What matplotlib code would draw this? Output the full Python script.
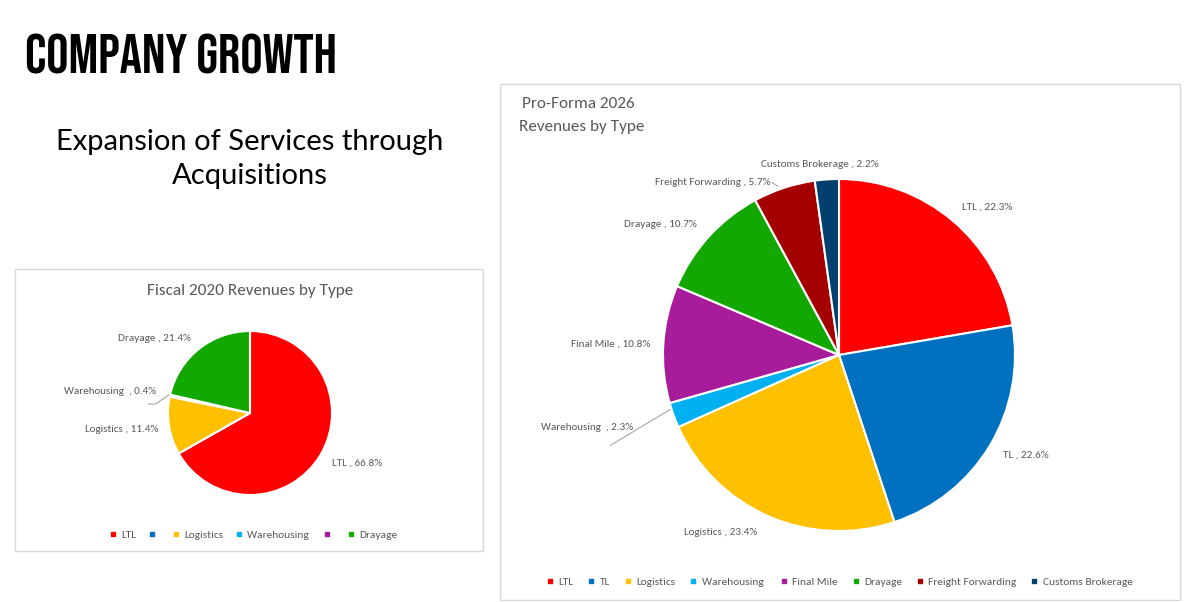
import matplotlib.pyplot as plt
import matplotlib.patches as mpatches
from matplotlib.lines import Line2D

# categories shared by both charts ("Warehousing " keeps the trailing space of the source sheet)
categories = ["LTL", "TL", "Logistics", "Warehousing ", "Final Mile",
              "Drayage", "Freight Forwarding", "Customs Brokerage"]
colors = ["#FF0000", "#0070C0", "#FFC000", "#00B0F0", "#A81B9A",
          "#12A800", "#A50000", "#003F6E"]

# Fiscal 2020 revenue shares (%), TL and Final Mile are zero
fy2020_cats = categories[:6]
fy2020_vals = [66.8, 0.0, 11.4, 0.4, 0.0, 21.4]

# Pro-Forma 2026 revenue shares (%)
pf2026_vals = [22.3, 22.6, 23.4, 2.3, 10.8, 10.7, 5.7, 2.2]

W, H = 1200, 602
LABEL_FONT = ["Carlito", "DejaVu Sans"]
GREY = "#595959"


def fig_box(x0, y0, x1, y1):
  # pixel box (top-left origin) -> figure fraction rect
  return [x0 / W, 1 - y1 / H, (x1 - x0) / W, (y1 - y0) / H]


def draw_pie(ax, vals, cols, lim):
  wedges, _ = ax.pie(vals, colors=cols, startangle=90, counterclock=False,
                     wedgeprops=dict(edgecolor="white", linewidth=1.5))
  ax.set_xlim(-lim, lim)
  ax.set_ylim(-lim, lim)
  ax.set_aspect("equal")
  ax.axis("off")
  return wedges


def pie_label(ax, text, xy, ha):
  ax.text(xy[0], xy[1], text, ha=ha, va="center", fontsize=8,
          color=GREY, family=LABEL_FONT)


fig = plt.figure(figsize=(12, 6.02), dpi=100)

# page headings
fig.text(25 / W, 1 - 73 / H, "COMPANY GROWTH", fontsize=40,
         family=["Bebas Neue", "DejaVu Sans"], va="baseline")
fig.text(250 / W, 1 - 159 / H, "Expansion of Services through\nAcquisitions",
         fontsize=21, family=["Lato", "DejaVu Sans"], ha="center", va="center",
         linespacing=1.38)

# chart frames
for box in [(15, 269, 483, 551), (500, 84, 1180, 600)]:
  fig.patches.append(mpatches.Rectangle((box[0] / W, 1 - box[3] / H),
                                        (box[2] - box[0]) / W, (box[3] - box[1]) / H,
                                        transform=fig.transFigure, fill=False,
                                        edgecolor="#D9D9D9", linewidth=1))

# ---- Fiscal 2020 pie ----
r1, lim1 = 82, 1.6
ax1 = fig.add_axes(fig_box(250 - r1 * lim1, 413 - r1 * lim1, 250 + r1 * lim1, 413 + r1 * lim1))
w1 = draw_pie(ax1, fy2020_vals, colors[:6], lim1)
fig.text(250 / W, 1 - 291 / H, "Fiscal 2020 Revenues by Type", ha="center", va="center",
         fontsize=12.3, color=GREY, family=LABEL_FONT)

# label anchors in pie-radius units
fy2020_label_pos = {"LTL": ((1.0, -0.61), "left"),
                    "Logistics": ((-1.12, -0.2), "right"),
                    "Warehousing ": ((-1.15, 0.26), "right"),
                    "Drayage": ((-0.72, 0.91), "right")}
for name, v in zip(fy2020_cats, fy2020_vals):
  if name in fy2020_label_pos:
    xy, ha = fy2020_label_pos[name]
    pie_label(ax1, f"{name} , {v:.1f}%", xy, ha)
ax1.plot([-0.99, -1.15, -1.24], [0.22, 0.11, 0.11], color="#A6A6A6", lw=0.8)

handles1 = [Line2D([], [], marker="s", ls="", markersize=3.5, color=c) for c in colors[:6]]
labels1 = [n if v > 0 else "" for n, v in zip(fy2020_cats, fy2020_vals)]
fig.legend(handles1, labels1, loc="center", bbox_to_anchor=(254 / W, 1 - 535 / H),
           ncol=6, frameon=False, handlelength=0.5, handletextpad=0.5, columnspacing=1.1,
           prop=dict(family=LABEL_FONT, size=8.2), labelcolor=GREY)

# ---- Pro-Forma 2026 pie ----
r2, lim2 = 176, 1.3
ax2 = fig.add_axes(fig_box(839 - r2 * lim2, 355 - r2 * lim2, 839 + r2 * lim2, 355 + r2 * lim2))
w2 = draw_pie(ax2, pf2026_vals, colors, lim2)
fig.text(522 / W, 1 - 104 / H, "Pro-Forma 2026", ha="left", va="center",
         fontsize=12.3, color=GREY, family=LABEL_FONT)
fig.text(519 / W, 1 - 127 / H, "Revenues by Type", ha="left", va="center",
         fontsize=12.3, color=GREY, family=LABEL_FONT)

pf2026_label_pos = [((0.70, 0.84), "left"),
                    ((0.93, -0.57), "left"),
                    ((-0.67, -1.01), "center"),
                    ((-1.17, -0.41), "right"),
                    ((-1.07, 0.06), "right"),
                    ((-0.81, 0.74), "right"),
                    ((-0.39, 0.98), "right"),
                    ((-0.11, 1.085), "center")]
for name, v, (xy, ha) in zip(categories, pf2026_vals, pf2026_label_pos):
  pie_label(ax2, f"{name} , {v:.1f}%", xy, ha)
ax2.plot([-0.96, -1.31, -1.34], [-0.31, -0.52, -0.52], color="#A6A6A6", lw=0.8)
ax2.plot([-0.38, -0.35], [0.98, 0.96], color="#A6A6A6", lw=0.8)

handles2 = [Line2D([], [], marker="s", ls="", markersize=3.5, color=c) for c in colors]
fig.legend(handles2, categories, loc="center", bbox_to_anchor=(840 / W, 1 - 582 / H),
           ncol=8, frameon=False, handlelength=0.5, handletextpad=0.5, columnspacing=1.3,
           prop=dict(family=LABEL_FONT, size=8.2), labelcolor=GREY)

fig.savefig("out.png", dpi=100)
